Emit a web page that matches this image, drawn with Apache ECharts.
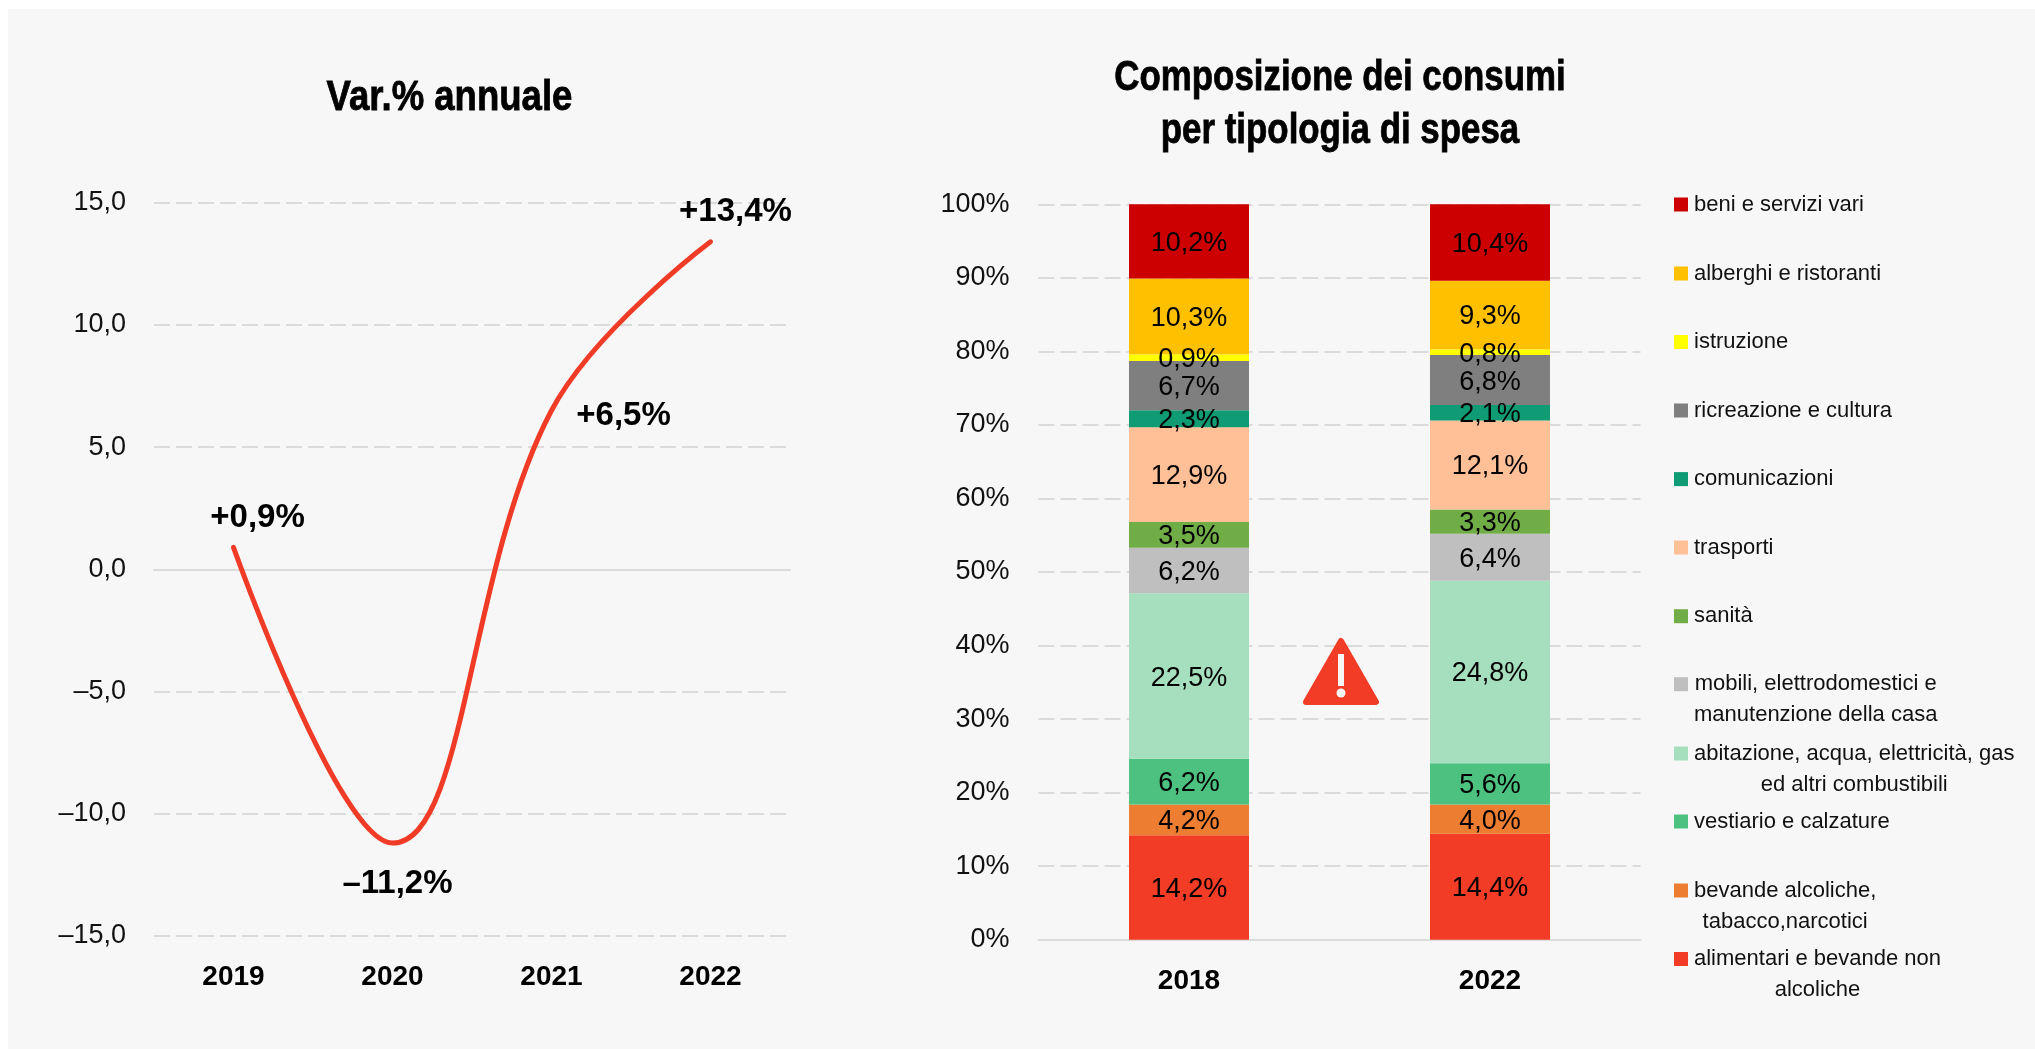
<!DOCTYPE html>
<html><head><meta charset="utf-8">
<style>html,body{margin:0;padding:0;background:#fff}#c{width:2035px;height:1049px}</style>
<script src="https://cdn.jsdelivr.net/npm/echarts@6/dist/echarts.min.js"></script>
</head><body><div id="c"></div>
<script>
const lineYears = ['2019','2020','2021','2022'];
const lineValues = [0.9,-11.2,6.5,13.4];
const lineLabels = ['+0,9%','–11,2%','+6,5%','+13,4%'];
const lineLabelOffsets = [[24,-29],[5,41],[72,5],[25,-30]];
const stackYears = ['2018','2022'];
const categories = ['alimentari e bevande non\nalcoliche','bevande alcoliche,\ntabacco,narcotici','vestiario e calzature','abitazione, acqua, elettricità, gas\ned altri combustibili','mobili, elettrodomestici e\nmanutenzione della casa','sanità','trasporti','comunicazioni','ricreazione e cultura','istruzione','alberghi e ristoranti','beni e servizi vari'];
const values2018 = [14.2,4.2,6.2,22.5,6.2,3.5,12.9,2.3,6.7,0.9,10.3,10.2];
const values2022 = [14.4,4.0,5.6,24.8,6.4,3.3,12.1,2.1,6.8,0.8,9.3,10.4];
const colors = ['#F23C26','#ED7D31','#4DC17F','#A6DFBD','#BFBFBF','#70AD47','#FFBF97','#0F9B74','#7F7F7F','#FFFF00','#FFC000','#CC0000'];
const legendCenters = [959.5,891,822,754,684.7,616.7,548,479.6,411,342.5,274,205];

const SANS = '"Liberation Sans",sans-serif';
const dashed = {show:true,lineStyle:{color:'#DBDBDB',width:2,type:[16,6]}};
const fmtNum = v => v.toFixed(1).replace('.',',').replace('-','–');

const legends = categories.map((name,i)=>{
  const two = name.includes('\n');
  return {
    data:[name], left:1674, top: legendCenters[i]-11.5, padding:0,
    itemWidth:14,itemHeight:14,selectedMode:false,orient:'vertical',
    icon:'rect',
    formatter:n=>n.split('\n').map(l=>'{c|'+l+'}').join('\n'),
    textStyle:{padding:two?[31,0,0,1]:[0,0,0,1],rich:{c:{align:'center',fontFamily:SANS,fontSize:22,lineHeight:31,color:'#111'}}}
  };
});

const stackSeries = categories.map((name,i)=>({
  name,type:'bar',stack:'t',xAxisIndex:2,yAxisIndex:1,barWidth:120,
  itemStyle:{color:colors[i]},
  data:[values2018[i],values2022[i]],
  label:{show:true,position:'inside',offset:[0,2],color:'#000',fontFamily:SANS,fontSize:27,
    formatter:p=>p.value.toFixed(1).replace('.',',')+'%'}
}));

const option = {
  animation:false,
  backgroundColor:'#fff',
  legend:legends,
  grid:[
    {left:154,top:202.7,width:636,height:733.3},
    {left:1038.5,top:204.3,width:602,height:735.4}
  ],
  xAxis:[
    {type:'category',gridIndex:0,data:lineYears,axisLine:{show:false,onZero:false},axisTick:{show:false},
      axisLabel:{margin:27,fontFamily:SANS,fontWeight:'bold',fontSize:28,color:'#000'}},
    {type:'category',gridIndex:0,data:lineYears,axisLine:{show:true,onZero:true,lineStyle:{color:'#DBDBDB',width:2}},axisTick:{show:false},axisLabel:{show:false}},
    {type:'category',gridIndex:1,data:stackYears,axisLine:{show:true,lineStyle:{color:'#DBDBDB',width:2}},axisTick:{show:false},
      axisLabel:{margin:28,fontFamily:SANS,fontWeight:'bold',fontSize:28,color:'#000'}}
  ],
  yAxis:[
    {type:'value',gridIndex:0,min:-15,max:15,interval:5,axisLine:{show:false},axisTick:{show:false},splitLine:dashed,
      axisLabel:{margin:28,fontFamily:SANS,fontSize:27,color:'#111',padding:[5,0,0,0],formatter:fmtNum}},
    {type:'value',gridIndex:1,min:0,max:100,interval:10,axisLine:{show:false},axisTick:{show:false},splitLine:dashed,
      axisLabel:{margin:29,fontFamily:SANS,fontSize:27,color:'#111',padding:[5,0,0,0],formatter:v=>v+'%'}}
  ],
  series:[
    {type:'line',xAxisIndex:0,yAxisIndex:0,smooth:0.4,symbol:'circle',symbolSize:0.01,showSymbol:true,
      lineStyle:{color:'#F03C26',width:5,cap:'round'},itemStyle:{color:'#F03C26'},
      data:lineValues.map((v,i)=>({value:v,label:{show:true,position:'inside',offset:lineLabelOffsets[i],
        formatter:lineLabels[i],fontFamily:SANS,fontWeight:'bold',fontSize:33,color:'#000'}}))},
    ...stackSeries
  ],
  graphic:[
    {type:'rect',z:-10,shape:{x:8,y:9,width:2027,height:1040},style:{fill:'#F7F7F7'},silent:true},
    {type:'text',z:10,x:449.5,y:98,scaleX:0.87,style:{text:'Var.% annuale',align:'center',verticalAlign:'middle',fontFamily:SANS,fontWeight:'bold',fontSize:42,fill:'#000',stroke:'#000',lineWidth:0.8}},
    {type:'text',z:10,x:1340,y:105,scaleX:0.83,style:{text:'Composizione dei consumi\nper tipologia di spesa',align:'center',verticalAlign:'middle',fontFamily:SANS,fontWeight:'bold',fontSize:42,lineHeight:53,fill:'#000',stroke:'#000',lineWidth:0.8}},
    {type:'polygon',z:10,shape:{points:[[1341,641],[1376,702],[1306,702]]},style:{fill:'#F23C26',stroke:'#F23C26',lineWidth:6,lineJoin:'round'}},
    {type:'rect',z:11,shape:{x:1338,y:654,width:6,height:32},style:{fill:'#F7F7F7'}},
    {type:'circle',z:11,shape:{cx:1341,cy:693,r:4.5},style:{fill:'#F7F7F7'}}
  ]
};
echarts.init(document.getElementById('c'),null,{renderer:'canvas'}).setOption(option);
</script></body></html>
